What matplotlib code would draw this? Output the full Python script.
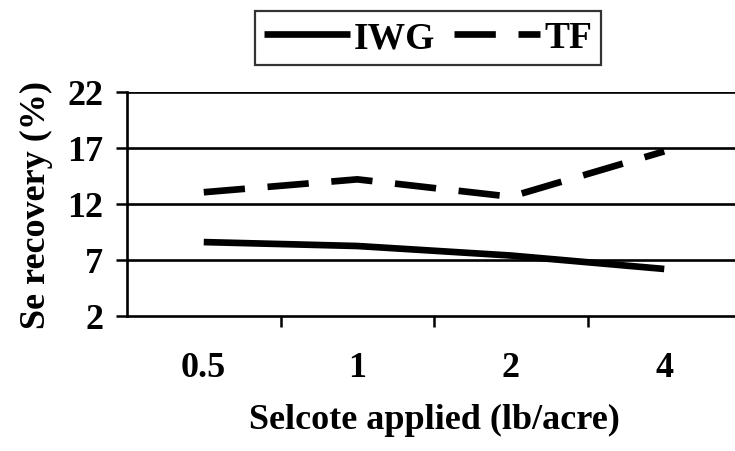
import matplotlib
matplotlib.use("Agg")
import matplotlib.pyplot as plt
from matplotlib.lines import Line2D

categories = ["0.5", "1", "2", "4"]
iwg = [8.6, 8.25, 7.4, 6.2]
tf = [13.05, 14.2, 12.65, 16.7]
yticks = [2, 7, 12, 17, 22]

plt.rcParams['font.family'] = ['Liberation Serif', 'DejaVu Serif']
plt.rcParams['font.weight'] = 'bold'

fig = plt.figure(figsize=(7.35, 4.52), dpi=100)
ax = fig.add_axes([127/735, 135/452, 614/735, 224/452])

x = list(range(len(categories)))
lw = 4.8
dash = (6.2, 3.4)
ax.plot(x, iwg, color='black', lw=lw, solid_capstyle='butt', label='IWG', zorder=3)
ax.plot(x, tf, color='black', lw=lw, dashes=dash, dash_capstyle='butt', label='TF', zorder=3)

ax.set_xlim(-0.5, 3.5)
ax.set_ylim(2, 22)
ax.set_yticks(yticks)
ax.set_yticklabels([str(v) for v in yticks])
for v in yticks[1:]:
    ax.axhline(v, color='black', lw=1.9, zorder=1)

ax.set_xticks(x)
ax.set_xticklabels(categories)
ax.set_xticks([0.5, 1.5, 2.5], minor=True)
ax.tick_params(axis='x', which='major', length=0, pad=25, labelsize=26)
ax.tick_params(axis='x', which='minor', length=8, width=1.8, direction='out')
ax.tick_params(axis='y', length=8, width=1.8, direction='out', pad=9, labelsize=26)

for s in ['top', 'right']:
    ax.spines[s].set_visible(False)
for s in ['left', 'bottom']:
    ax.spines[s].set_linewidth(1.9)

ax.set_xlabel('Selcote applied (lb/acre)', fontsize=26, fontweight='bold', labelpad=14)
ax.set_ylabel('Se recovery (%)', fontsize=26, fontweight='bold', labelpad=10)

handles = [Line2D([], [], color='black', lw=lw, solid_capstyle='butt'),
           Line2D([], [], color='black', lw=lw, dashes=dash, dash_capstyle='butt')]
leg = fig.legend(handles, ['IWG', 'TF'], loc='center', bbox_to_anchor=(428/735, 1 - 39/452),
                 ncol=2, frameon=True, fancybox=False, edgecolor='black',
                 handlelength=2.3, handletextpad=0.1, columnspacing=0.5, borderpad=0.25,
                 prop={'family': 'Liberation Serif', 'weight': 'bold', 'size': 27})
leg.get_frame().set_linewidth(1.6)

fig.savefig('out.png', dpi=100)
